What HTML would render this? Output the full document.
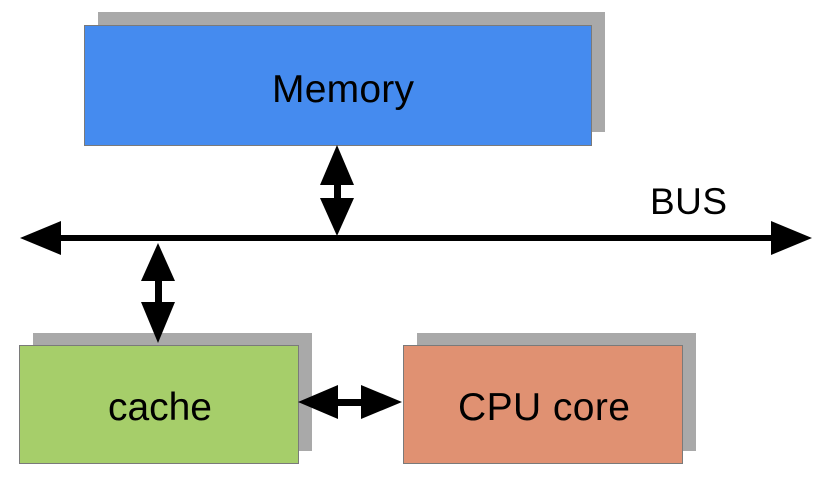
<!DOCTYPE html>
<html><head><style>body{margin:0;background:#fff}</style></head><body>
<svg width="824" height="497" xmlns="http://www.w3.org/2000/svg" font-family="Liberation Sans, sans-serif">
<rect x="98" y="12" width="507" height="120" fill="#a9a9a9"/>
<rect x="84.5" y="25.5" width="507" height="120" fill="#458bef" stroke="#7a7a7a"/>
<text x="343" y="102" font-size="39" text-anchor="middle" textLength="142">Memory</text>
<rect x="33" y="333" width="279" height="118" fill="#a9a9a9"/>
<rect x="19.5" y="345.5" width="279" height="118" fill="#a6ce6a" stroke="#7a7a7a"/>
<text x="160" y="420" font-size="39" text-anchor="middle" textLength="104">cache</text>
<rect x="417" y="333" width="279" height="118" fill="#a9a9a9"/>
<rect x="403.5" y="345.5" width="279" height="118" fill="#e09172" stroke="#7a7a7a"/>
<text x="544" y="420" font-size="39" text-anchor="middle" textLength="172">CPU core</text>
<text x="650" y="214" font-size="37" textLength="77">BUS</text>
<rect x="55" y="235" width="722" height="6" fill="#000"/>
<polygon points="20,238 61,221 61,255" fill="#000"/>
<polygon points="812,238 771,221 771,255" fill="#000"/>
<rect x="334" y="180" width="7" height="24" fill="#000"/>
<polygon points="337,145 320,185 354,185" fill="#000"/>
<polygon points="337,236 320,198 354,198" fill="#000"/>
<rect x="155" y="276" width="7" height="30" fill="#000"/>
<polygon points="158,243 141,281 175,281" fill="#000"/>
<polygon points="158,343 141,302 175,302" fill="#000"/>
<rect x="334" y="399" width="30" height="7" fill="#000"/>
<polygon points="298,402 338,385 338,419" fill="#000"/>
<polygon points="402,402 361,385 361,419" fill="#000"/>
</svg>
</body></html>
